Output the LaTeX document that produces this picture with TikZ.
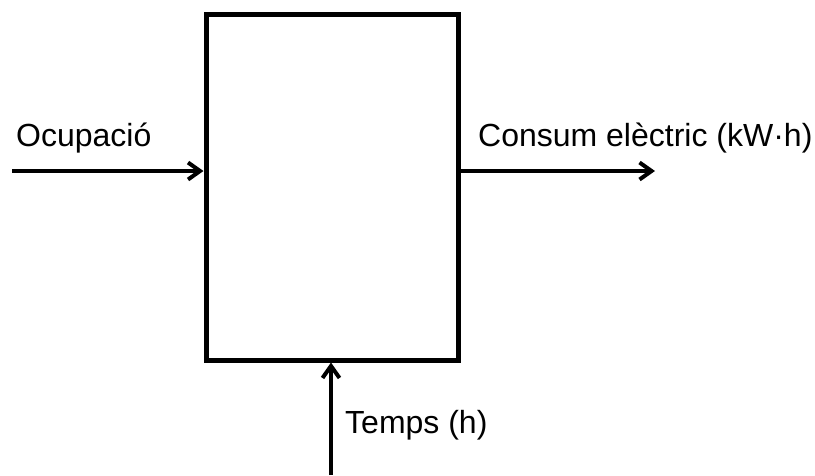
\documentclass[tikz,border=0pt]{standalone}
\usepackage{fontspec}
\setmainfont{Liberation Sans}
\usetikzlibrary{positioning,arrows.meta}

\begin{document}
\begin{tikzpicture}[
  x=1pt,y=-1pt,
  font=\fontsize{32}{38}\selectfont,
  >={Straight Barb[length=12pt,width=17pt]},
  blk/.style={draw,line width=5pt,minimum width=252pt,minimum height=346pt,inner sep=0pt},
  flow/.style={->,line width=4pt},
  lbl/.style={inner sep=0pt,anchor=base west},
]
\useasboundingbox (0,0) rectangle (815,475);

% the block
\node[blk] (box) at (332,187) {};

% input, output and time
\coordinate (occ) at (12,171);
\coordinate (cons) at (655,171);
\coordinate (tm) at (331,475);
\draw[flow] (occ) -- (occ -| box.west);
\draw[flow] (cons -| box.east) -- (cons);
\draw[flow] (tm) -- (tm |- box.south);

% labels
\node[lbl] (locc) at (16,146) {Ocupació};
\node[lbl] (lcons) at (478,146) {Consum elèctric (kW·h)};
\node[lbl] (ltm) at (345,433) {Temps (h)};
\end{tikzpicture}
\end{document}
